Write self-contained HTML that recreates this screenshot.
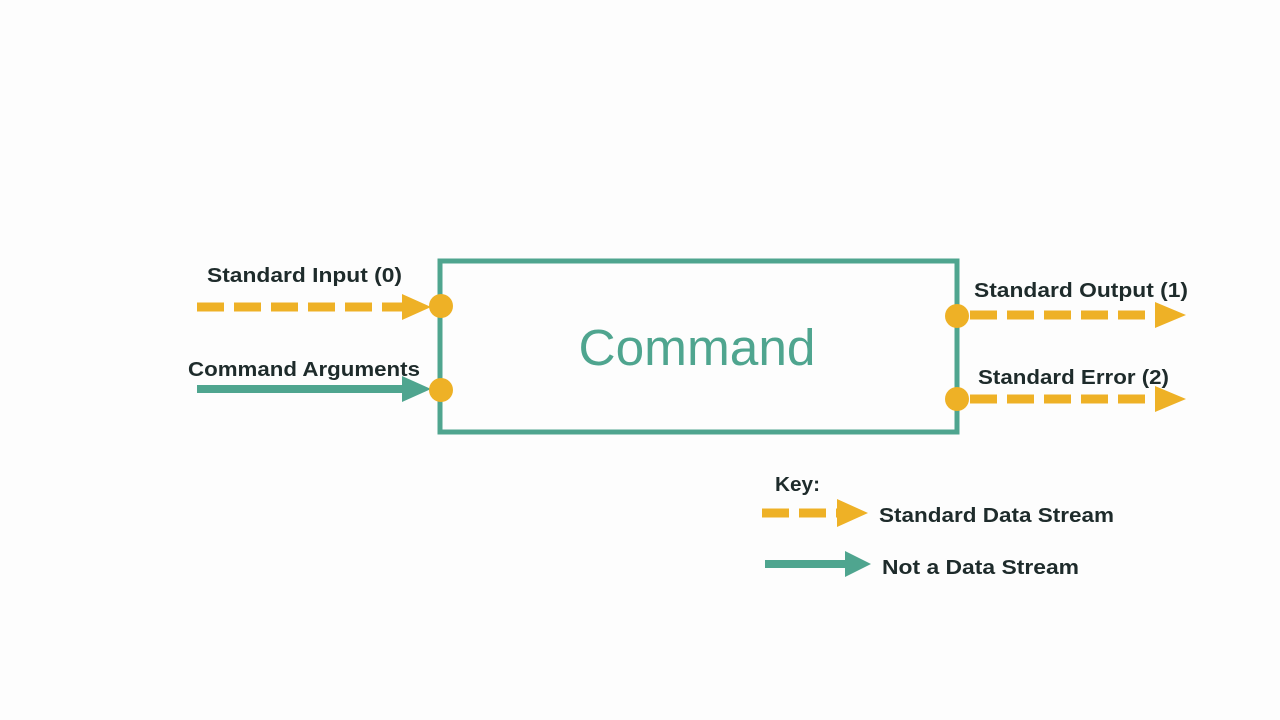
<!DOCTYPE html>
<html><head><meta charset="utf-8"><style>
html,body{margin:0;padding:0;background:#fdfdfd;}
svg{display:block;}
text{font-family:"Liberation Sans",sans-serif;font-weight:bold;fill:#1e2b2b;font-size:20px;}
</style></head><body>
<svg width="1280" height="720" viewBox="0 0 1280 720">
<rect width="1280" height="720" fill="#fdfdfd"/>
<rect x="440" y="261" width="517" height="171" fill="none" stroke="#4fa58f" stroke-width="5"/>
<text x="697" y="365" text-anchor="middle" style="font-weight:normal;fill:#4fa58f;font-size:51px" textLength="237" lengthAdjust="spacingAndGlyphs">Command</text>

<!-- input dashed -->
<line x1="197" y1="307" x2="402" y2="307" stroke="#eeb126" stroke-width="9" stroke-dasharray="27,10"/>
<polygon points="402,294 431,307 402,320" fill="#eeb126"/>
<!-- args solid -->
<line x1="197" y1="389" x2="405" y2="389" stroke="#4fa58f" stroke-width="8"/>
<polygon points="402,376 431,389 402,402" fill="#4fa58f"/>
<!-- output -->
<line x1="970" y1="315" x2="1157" y2="315" stroke="#eeb126" stroke-width="9" stroke-dasharray="27,10"/>
<polygon points="1155,302 1186,315 1155,328" fill="#eeb126"/>
<line x1="970" y1="399" x2="1157" y2="399" stroke="#eeb126" stroke-width="9" stroke-dasharray="27,10"/>
<polygon points="1155,386 1186,399 1155,412" fill="#eeb126"/>

<circle cx="441" cy="306" r="12" fill="#eeb126"/>
<circle cx="441" cy="390" r="12" fill="#eeb126"/>
<circle cx="957" cy="316" r="12" fill="#eeb126"/>
<circle cx="957" cy="399" r="12" fill="#eeb126"/>

<text x="207" y="282" textLength="195" lengthAdjust="spacingAndGlyphs">Standard Input (0)</text>
<text x="188" y="376" textLength="232" lengthAdjust="spacingAndGlyphs">Command Arguments</text>
<text x="974" y="297" textLength="214" lengthAdjust="spacingAndGlyphs">Standard Output (1)</text>
<text x="978" y="384" textLength="191" lengthAdjust="spacingAndGlyphs">Standard Error (2)</text>

<!-- key -->
<text x="775" y="491" textLength="45" lengthAdjust="spacingAndGlyphs">Key:</text>
<line x1="762" y1="513" x2="838" y2="513" stroke="#eeb126" stroke-width="9" stroke-dasharray="27,10"/>
<polygon points="837,499 868,513 837,527" fill="#eeb126"/>
<text x="879" y="522" textLength="235" lengthAdjust="spacingAndGlyphs">Standard Data Stream</text>
<line x1="765" y1="564" x2="848" y2="564" stroke="#4fa58f" stroke-width="8"/>
<polygon points="845,551 871,564 845,577" fill="#4fa58f"/>
<text x="882" y="574" textLength="197" lengthAdjust="spacingAndGlyphs">Not a Data Stream</text>
</svg>
</body></html>
